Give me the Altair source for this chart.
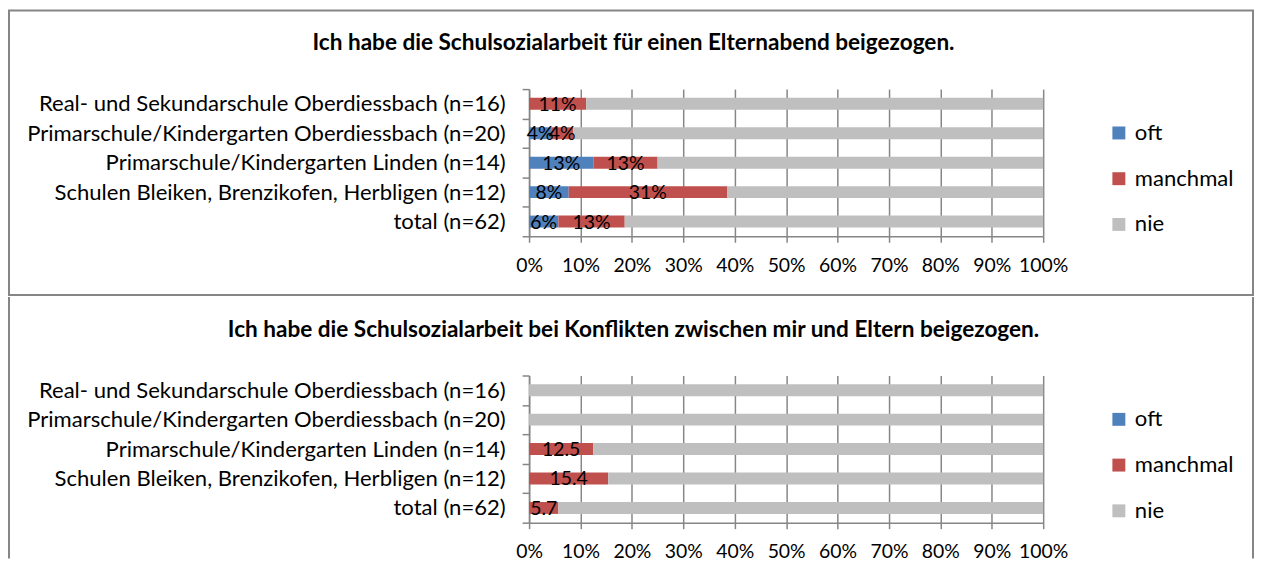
import altair as alt
import pandas as pd

# ---------------- data ----------------
schools = [
    "Real- und Sekundarschule Oberdiessbach (n=16)",
    "Primarschule/Kindergarten Oberdiessbach (n=20)",
    "Primarschule/Kindergarten Linden (n=14)",
    "Schulen Bleiken, Brenzikofen, Herbligen (n=12)",
    "total (n=62)",
]
categories = ["oft", "manchmal", "nie"]
colors = ["#4F81BD", "#C0504D", "#BFBFBF"]

p1_title = "Ich habe die Schulsozialarbeit für einen Elternabend beigezogen."
p1_oft = [0.0, 4.3, 12.5, 7.7, 5.7]
p1_manchmal = [11.1, 4.3, 12.5, 30.8, 12.9]
p1_nie = [88.9, 91.4, 75.0, 61.5, 81.4]

p2_title = "Ich habe die Schulsozialarbeit bei Konflikten zwischen mir und Eltern beigezogen."
p2_oft = [0.0, 0.0, 0.0, 0.0, 0.0]
p2_manchmal = [0.0, 0.0, 12.5, 15.4, 5.7]
p2_nie = [100.0, 100.0, 87.5, 84.6, 94.3]

x_ticks = [0, 10, 20, 30, 40, 50, 60, 70, 80, 90, 100]

FONT = "Lato"
GRAY = "#868686"
LBL = 22.2
TITLE = 22.7
TICKLBL = 19.5


def fmt_pct(v):
    return f"{int(v + 0.5)}%"


def fmt_dec(v):
    return f"{v:.1f}"


def make_df(oft, manchmal, nie, fmt):
    rows = []
    for i, s in enumerate(schools):
        for j, (c, v) in enumerate(zip(categories, (oft[i], manchmal[i], nie[i]))):
            rows.append({"school": s, "cat": c, "ord": j, "value": v, "lbl": fmt(v)})
    return pd.DataFrame(rows)


def panel(df, title, closed):
    base = (
        alt.Chart(df)
        .transform_stack(
            stack="value",
            groupby=["school"],
            sort=[alt.SortField("ord", order="ascending")],
            as_=["x0", "x1"],
        )
        .transform_calculate(mid="(datum.x0 + datum.x1) / 2")
    )
    y_axis = alt.Axis(
        title=None, labelFont=FONT, labelFontSize=LBL, labelColor="#000",
        labelPadding=17, labelLimit=800, tickBand="extent", tickSize=7,
        tickColor=GRAY, tickWidth=1.5, domainColor=GRAY, domainWidth=1.5,
        grid=False, labelOverlap=False,
    )
    bars = base.mark_bar(size=12).encode(
        x=alt.X(
            "x0:Q",
            scale=alt.Scale(domain=[0, 100], nice=False),
            axis=alt.Axis(
                values=x_ticks, labelExpr="datum.value + '%'", title=None,
                grid=True, gridColor=GRAY, gridWidth=1.5, domainColor=GRAY,
                domainWidth=1.5, tickColor=GRAY, tickWidth=1.5, tickSize=6,
                labelFont=FONT, labelFontSize=TICKLBL, labelColor="#000",
                labelPadding=14, labelOverlap=False, labelFlush=False,
            ),
        ),
        x2="x1:Q",
        y=alt.Y("school:N", sort=schools,
                scale=alt.Scale(paddingInner=0, paddingOuter=0), axis=y_axis),
        color=alt.Color(
            "cat:N",
            scale=alt.Scale(domain=categories, range=colors),
            legend=alt.Legend(
                title=None, orient="none", legendX=582, legendY=33,
                symbolType="square", symbolSize=169, symbolStrokeWidth=0,
                symbolOpacity=1, labelFont=FONT, labelFontSize=LBL,
                labelColor="#000", labelOffset=5, rowPadding=23, padding=0,
            ),
        ),
    )
    labels = (
        base.transform_filter("datum.value > 0 && datum.cat != 'nie'")
        .mark_text(font=FONT, fontSize=TICKLBL, color="#000",
                   align="center", baseline="middle", dy=1)
        .encode(
            x=alt.X("mid:Q", title=None),
            y=alt.Y("school:N", sort=schools, title=None),
            text="lbl:N",
        )
    )
    one = pd.DataFrame({"t": [title]})
    ttl = alt.Chart(one).mark_text(
        font=FONT, fontSize=TITLE, fontWeight="bold", color="#000",
        align="center", baseline="middle",
    ).encode(x=alt.value(105), y=alt.value(-46), text="t:N")

    layers = [bars, labels, ttl]
    if closed:
        border = alt.Chart(one).mark_rect(
            fillOpacity=0, stroke=GRAY, strokeWidth=2
        ).encode(x=alt.value(-523), x2=alt.value(728),
                 y=alt.value(-79), y2=alt.value(207))
        layers.append(border)
    else:
        for xv in (-523, 728):
            side = alt.Chart(one).mark_rule(color=GRAY, strokeWidth=2).encode(
                x=alt.value(xv), y=alt.value(-79), y2=alt.value(184)
            )
            layers.append(side)
    return alt.layer(*layers).properties(width=517, height=148)


df1 = make_df(p1_oft, p1_manchmal, p1_nie, fmt_pct)
df2 = make_df(p2_oft, p2_manchmal, p2_nie, fmt_dec)

chart = (
    alt.vconcat(panel(df1, p1_title, True), panel(df2, p2_title, False), spacing=0)
    .resolve_scale(color="independent")
    .properties(padding=0, background="white")
    .configure_view(strokeWidth=0)
)

chart.save("out.html", embed_options={"renderer": "svg", "actions": False})
